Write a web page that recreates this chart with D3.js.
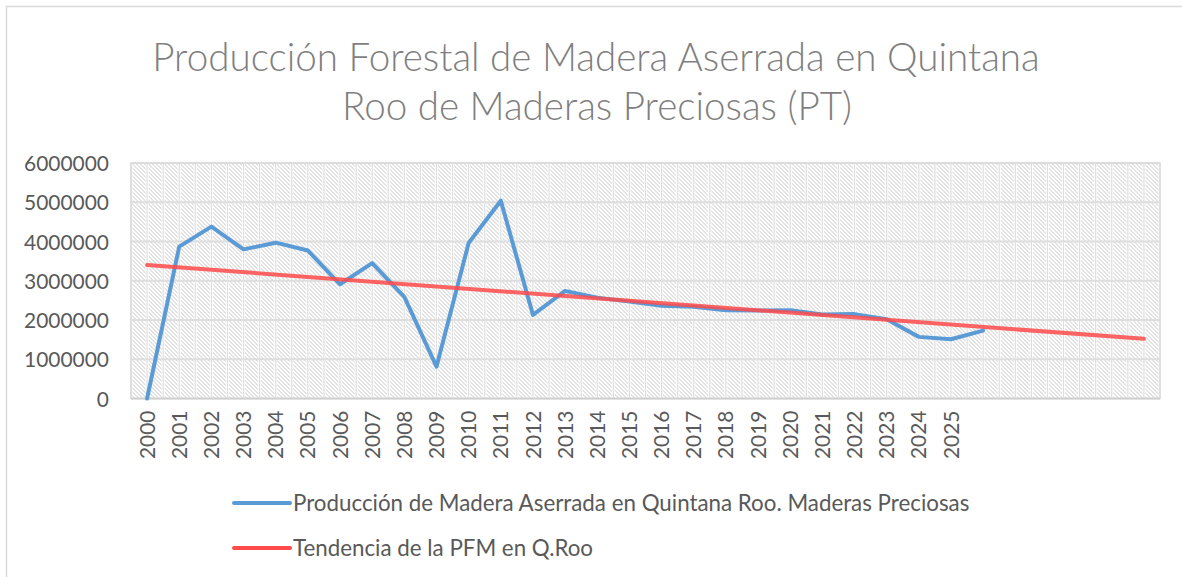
<!DOCTYPE html>
<html>
<head>
<meta charset="utf-8">
<script src="https://cdn.jsdelivr.net/npm/d3@7"></script>
<style>
  html, body { margin: 0; padding: 0; background: #fff; }
  svg { display: block; }
  text { font-family: Lato, "Open Sans", sans-serif; }
</style>
</head>
<body>
<svg id="chart" width="1182" height="577"></svg>
<script>
// ---- data ----
const categories = ["2000","2001","2002","2003","2004","2005","2006","2007","2008","2009",
  "2010","2011","2012","2013","2014","2015","2016","2017","2018","2019",
  "2020","2021","2022","2023","2024","2025","","","","","",""];
const production = [0, 3870000, 4380000, 3800000, 3970000, 3770000, 2910000, 3450000, 2590000, 810000,
  3960000, 5040000, 2130000, 2740000, 2570000, 2470000, 2360000, 2340000, 2250000, 2240000,
  2250000, 2140000, 2150000, 2020000, 1570000, 1510000, 1730000];
const trendIndex = [0, 31];
const trendValues = [3400000, 1520000];
const yTicks = [0, 1000000, 2000000, 3000000, 4000000, 5000000, 6000000];
const titleLines = ["Producción Forestal de Madera Aserrada en Quintana", "Roo de Maderas Preciosas (PT)"];
const seriesNames = ["Producción de Madera Aserrada en Quintana Roo. Maderas Preciosas", "Tendencia de la PFM en Q.Roo"];
const seriesColors = ["#5b9bd5", "#ff4a4a"];

// ---- layout ----
const svg = d3.select("#chart");
const plot = {left: 131, right: 1160, top: 163, bottom: 398.5};
const textColor = "#595959";

function fitWidth(sel, target) {
  const node = sel.node();
  const w = node.getComputedTextLength();
  const fs = parseFloat(sel.attr("font-size"));
  sel.attr("font-size", fs * target / w);
}

// outer border
svg.append("path").attr("d", "M6.5,577V6.5H1182").attr("fill", "none")
  .attr("stroke", "#d9d9d9").attr("stroke-width", 1.5);

// pattern
const defs = svg.append("defs");
const pat = defs.append("pattern").attr("id", "hatch").attr("patternUnits", "userSpaceOnUse")
  .attr("width", 8).attr("height", 8).attr("x", plot.left).attr("y", plot.top);
pat.append("rect").attr("width", 8).attr("height", 8).attr("fill", "#ffffff");
const cells = [];
for (let yy = 0; yy < 8; yy++) for (let xx = 0; xx < 8; xx++) {
  if ((((xx - yy) % 4) + 4) % 4 < 2) cells.push([xx, yy]);
}
pat.selectAll("rect.c").data(cells).join("rect").attr("class", "c")
  .attr("x", d => d[0]).attr("y", d => d[1]).attr("width", 1).attr("height", 1).attr("fill", "#e2e2e2");

// scales
const x = d3.scaleBand().domain(d3.range(categories.length)).range([plot.left, plot.right]).padding(0);
const cx = i => x(i) + x.bandwidth() / 2;
const y = d3.scaleLinear().domain([0, 6000000]).range([plot.bottom, plot.top]);

// plot background
svg.append("rect").attr("x", plot.left).attr("y", plot.top)
  .attr("width", plot.right - plot.left).attr("height", plot.bottom - plot.top)
  .attr("fill", "url(#hatch)");

// vertical gridlines (every half category)
const vg = [];
for (let i = 0; i <= categories.length * 2; i++) vg.push(plot.left + i * x.bandwidth() / 2);
svg.append("g").selectAll("line").data(vg).join("line")
  .attr("x1", d => d).attr("x2", d => d).attr("y1", plot.top).attr("y2", plot.bottom)
  .attr("stroke", "#ffffff").attr("stroke-width", 3);
svg.append("g").selectAll("line").data(vg).join("line")
  .attr("x1", d => d).attr("x2", d => d).attr("y1", plot.top).attr("y2", plot.bottom)
  .attr("stroke", "#dedede").attr("stroke-width", 1.2);
// horizontal gridlines
svg.append("g").selectAll("line").data(yTicks).join("line")
  .attr("x1", plot.left).attr("x2", plot.right).attr("y1", d => y(d)).attr("y2", d => y(d))
  .attr("stroke", "#dedede").attr("stroke-width", 2);
// plot border
svg.append("rect").attr("x", plot.left).attr("y", plot.top)
  .attr("width", plot.right - plot.left).attr("height", plot.bottom - plot.top)
  .attr("fill", "none").attr("stroke", "#dcdcdc").attr("stroke-width", 1.5);
// bottom axis line
svg.append("line").attr("x1", plot.left).attr("x2", plot.right).attr("y1", plot.bottom).attr("y2", plot.bottom)
  .attr("stroke", "#d0d0d0").attr("stroke-width", 1.5);

// y axis labels
const yAxis = d3.axisLeft(y).tickValues(yTicks).tickFormat(d3.format("d")).tickSize(0).tickPadding(0);
const gy = svg.append("g").attr("transform", `translate(${109},0)`).call(yAxis);
gy.select(".domain").remove();
gy.selectAll("text").attr("font-size", 20).attr("fill", textColor)
  .attr("font-family", "Lato, sans-serif").attr("dy", "0.36em");
fitWidth(gy.selectAll("text").filter(d => d === 6000000), 85);
const yfs = gy.selectAll("text").filter(d => d === 6000000).attr("font-size");
gy.selectAll("text").attr("font-size", yfs);

// x axis labels
const xAxis = d3.axisBottom(x).tickFormat(i => categories[i]).tickSize(0).tickPadding(0);
const gx = svg.append("g").attr("transform", `translate(0,${plot.bottom})`).call(xAxis);
gx.select(".domain").remove();
gx.selectAll("text").attr("font-size", yfs).attr("fill", textColor)
  .attr("font-family", "Lato, sans-serif")
  .attr("text-anchor", "end").attr("transform", "translate(0,12) rotate(-90)")
  .attr("x", 0).attr("y", 0).attr("dy", "0.36em");

// lines
const line = d3.line().x(d => cx(d[0])).y(d => y(d[1]));
svg.append("path").datum(production.map((v, i) => [i, v]))
  .attr("d", line).attr("fill", "none").attr("stroke", seriesColors[0])
  .attr("stroke-width", 4).attr("stroke-linejoin", "round").attr("stroke-linecap", "round");
svg.append("path").datum(trendIndex.map((v, i) => [v, trendValues[i]]))
  .attr("d", line).attr("fill", "none").attr("stroke", seriesColors[1]).attr("stroke-opacity", 0.85)
  .attr("stroke-width", 4).attr("stroke-linecap", "round");

// title
const tg = svg.append("g");
const t1 = tg.append("text").attr("x", 596).attr("y", 71).attr("text-anchor", "middle")
  .attr("font-size", 36).attr("font-weight", 300).attr("fill", "#7f7f7f").text(titleLines[0]);
fitWidth(t1, 888);
const t2 = tg.append("text").attr("x", 597).attr("y", 120).attr("text-anchor", "middle")
  .attr("font-size", t1.attr("font-size")).attr("font-weight", 300).attr("fill", "#7f7f7f").text(titleLines[1]);

// legend
const legY = [503, 548];
const lg = svg.append("g");
seriesNames.forEach((name, i) => {
  lg.append("line").attr("x1", 234).attr("x2", 290).attr("y1", legY[i]).attr("y2", legY[i])
    .attr("stroke", seriesColors[i]).attr("stroke-width", 4).attr("stroke-linecap", "round");
  const t = lg.append("text").attr("x", 293).attr("y", legY[i]).attr("dy", "0.36em")
    .attr("font-size", 20).attr("fill", textColor).text(name);
  if (i === 0) fitWidth(t, 677);
  else t.attr("font-size", lg.select("text").attr("font-size"));
});
</script>
</body>
</html>
